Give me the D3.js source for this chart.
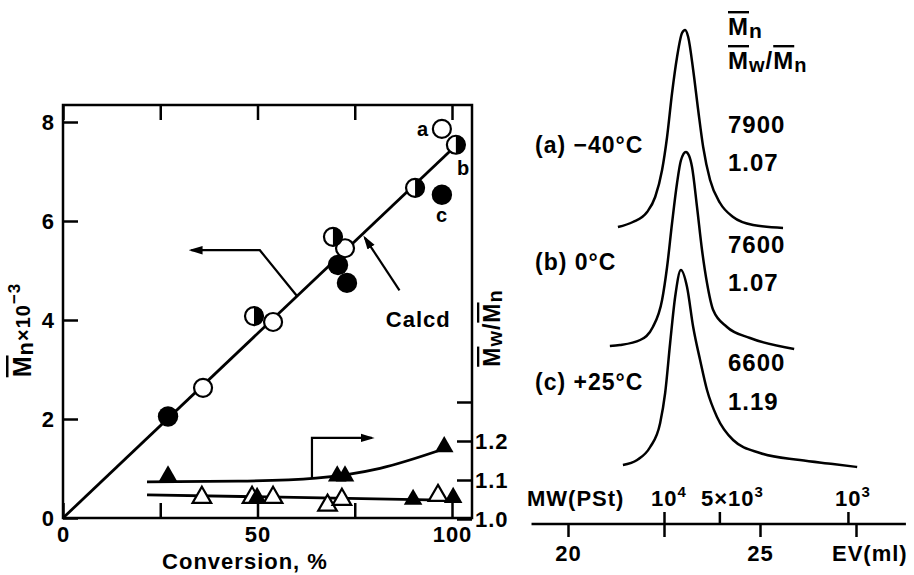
<!DOCTYPE html>
<html>
<head>
<meta charset="utf-8">
<script src="https://cdn.jsdelivr.net/npm/d3@7"></script>
<style>
body{margin:0;background:#fff;}
svg text{font-family:"Liberation Sans",Arial,sans-serif;font-weight:bold;fill:#000;letter-spacing:1px;}
</style>
</head>
<body>
<div id="chart"></div>
<script>
// ---- left panel data: conversion (%) vs Mn x 10^-3 and Mw/Mn
var mnOpen   = [[36, 2.63], [54, 3.96], [72.5, 5.45], [97.4, 7.86]];
var mnFilled = [[27, 2.05], [70.7, 5.11], [73, 4.75], [97.4, 6.53]];
var mnHalf   = [[49.1, 4.08], [69.4, 5.68], [90.5, 6.67], [101, 7.54]];
var mnCalcd  = [[0, 0], [100, 7.45]];

var ratioOpen   = [[35.7, 1.055], [48.6, 1.055], [54, 1.055], [68, 1.035], [71.7, 1.05], [96.4, 1.06]];
var ratioFilled = [[27, 1.11], [70.5, 1.11], [72.5, 1.11], [98, 1.185], [49.9, 1.055], [90, 1.05], [100.3, 1.055]];
var ratioFitFilled = [[21.6, 1.095], [45, 1.097], [65, 1.105], [81.5, 1.13], [98, 1.18]];
var ratioFitOpen   = [[21.6, 1.062], [101, 1.048]];

var convTicks  = [0, 25, 50, 75, 100];
var mnTicks    = [0, 2, 4, 6, 8];
var ratioTicks = [1.0, 1.1, 1.2, 1.3];

// ---- right panel data: GPC traces, elution volume (ml) vs detector response
var traceA = [[21.30,0.2],[21.69,1.2],[22.06,3.2],[22.27,6.2],[22.45,11.6],[22.58,18.2],[22.71,27.0],[22.84,34.2],[22.97,39.0],[23.05,39.6],[23.13,38.2],[23.26,31.6],[23.39,23.6],[23.52,16.2],[23.70,9.6],[23.96,5.0],[24.30,2.2],[24.82,0.6],[25.60,0.0]];
var traceB = [[21.09,0.4],[21.35,0.6],[21.88,1.6],[22.21,4.2],[22.45,9.6],[22.58,16.2],[22.71,25.0],[22.84,33.0],[22.94,37.5],[23.07,39.2],[23.15,38.5],[23.23,36.2],[23.36,28.2],[23.49,19.6],[23.62,13.0],[23.78,7.6],[24.14,4.2],[24.74,2.0],[25.89,-0.2]];
var traceC = [[21.43,0.6],[21.80,1.6],[22.14,4.2],[22.40,9.0],[22.53,15.0],[22.66,25.0],[22.79,34.2],[22.94,39.6],[23.10,36.2],[23.26,28.2],[23.44,21.6],[23.62,15.6],[23.88,10.2],[24.30,5.6],[25.00,3.0],[26.04,1.6],[26.90,0.8],[27.53,0.2]];
var traceOffsets = [59, 35, 11];
var traceLabels = ['(a) \u221240\u00b0C', '(b) 0\u00b0C', '(c) +25\u00b0C'];
var traceMn = ['7900', '7600', '6600'];
var traceRatio = ['1.07', '1.07', '1.19'];

var evTicks = [20, 22.5, 25, 27.5];
var evLabels = [20, 25];
var mwTicks = [1e4, 5e3, 1e3];

var svg = d3.select('#chart').append('svg')
    .attr('width', 914).attr('height', 575);

function richText(el, parts){
    var cur = 0;
    parts.forEach(function(p){
	var s = p.shift || 0;
	var ts = el.append('tspan').attr('dy', s - cur).text(p.t);
	cur = s;
	if (p.size) ts.attr('font-size', p.size);
	if (p.over) ts.style('text-decoration', 'overline');
    });
}

var defs = svg.append('defs');
defs.append('marker')
    .attr('id', 'head')
    .attr('viewBox', '0 0 10 10')
    .attr('refX', 8).attr('refY', 5)
    .attr('markerWidth', 14).attr('markerHeight', 14)
    .attr('markerUnits', 'userSpaceOnUse')
    .attr('orient', 'auto')
    .append('path').attr('d', 'M0,2 L10,5 L0,8 Z').attr('fill', '#000');

// ================= left panel =================
var x = d3.scaleLinear().domain([0, 100]).range([63, 452]);
var y = d3.scaleLinear().domain([0, 8]).range([518, 122]);
var yr = d3.scaleLinear().domain([1.0, 1.3]).range([519, 402]);
var frame = {left: 63, top: 105, right: 472, bottom: 518};

var left = svg.append('g');

left.append('rect')
    .attr('x', frame.left).attr('y', frame.top)
    .attr('width', frame.right - frame.left).attr('height', frame.bottom - frame.top)
    .attr('fill', 'none').attr('stroke', '#000').attr('stroke-width', 2.5);

function styleAxis(g){
    g.select('.domain').remove();
    g.attr('font-size', 22);
    g.selectAll('line').attr('stroke-width', 2.5);
}

left.append('g')
    .attr('transform', 'translate(0,' + frame.bottom + ')')
    .call(d3.axisBottom(x).tickValues(convTicks).tickSize(-15).tickPadding(8)
	  .tickFormat(function(d){ return d % 50 === 0 ? d : ''; }))
    .call(styleAxis);
left.append('g')
    .attr('transform', 'translate(0,' + frame.top + ')')
    .call(d3.axisTop(x).tickValues(convTicks).tickSize(-15).tickFormat(''))
    .call(styleAxis);
left.append('g')
    .attr('transform', 'translate(' + frame.left + ',0)')
    .call(d3.axisLeft(y).tickValues(mnTicks).tickSize(-15).tickPadding(8))
    .call(styleAxis);
left.append('g')
    .attr('transform', 'translate(' + frame.right + ',0)')
    .call(d3.axisRight(yr).tickValues(ratioTicks).tickSize(-15).tickPadding(3)
	  .tickFormat(function(d){ return d < 1.25 ? d.toFixed(1) : ''; }))
    .call(styleAxis);

// axis titles
left.append('text')
    .attr('x', 245).attr('y', 569)
    .attr('text-anchor', 'middle').attr('font-size', 22)
    .text('Conversion, %');

var ytl = left.append('text')
    .attr('transform', 'translate(31,330) rotate(-90)')
    .attr('text-anchor', 'middle').attr('font-size', 25);
richText(ytl, [{t: 'M', over: true}, {t: 'n', size: 22, shift: 2}, {t: '\u00d710', size: 20, shift: -1},
	       {t: '\u22123', size: 17, shift: -11}]);

var ytr = left.append('text')
    .attr('transform', 'translate(500,328) rotate(-90)')
    .attr('text-anchor', 'middle').attr('font-size', 23);
richText(ytr, [{t: 'M', over: true}, {t: 'w', size: 20, shift: 2}, {t: '/', shift: 0},
	       {t: 'M', over: true}, {t: 'n', size: 20, shift: 2}]);

// lines
var lineMn = d3.line().x(function(d){ return x(d[0]); }).y(function(d){ return y(d[1]); });
var lineR = d3.line().x(function(d){ return x(d[0]); }).y(function(d){ return yr(d[1]); })
    .curve(d3.curveMonotoneX);

left.append('path').attr('d', lineMn(mnCalcd))
    .attr('fill', 'none').attr('stroke', '#000').attr('stroke-width', 2.8);
left.append('path').attr('d', lineR(ratioFitFilled))
    .attr('fill', 'none').attr('stroke', '#000').attr('stroke-width', 2.8);
left.append('path').attr('d', lineR(ratioFitOpen))
    .attr('fill', 'none').attr('stroke', '#000').attr('stroke-width', 2.8);

// arrows pointing to the axes and to the calculated line
var arrowMn = [[60.2, 4.48], [50.6, 5.41], [33, 5.41]];
var arrowRatio = [[64, 1.105], [64, 1.208], [79.4, 1.208]];
var arrowCalcd = [[86.5, 4.6], [77.6, 5.66]];

left.append('path').attr('d', lineMn(arrowMn))
    .attr('fill', 'none').attr('stroke', '#000').attr('stroke-width', 2.2)
    .attr('marker-end', 'url(#head)');
left.append('path').attr('d', d3.line().x(function(d){ return x(d[0]); }).y(function(d){ return yr(d[1]); })(arrowRatio))
    .attr('fill', 'none').attr('stroke', '#000').attr('stroke-width', 2.2)
    .attr('marker-end', 'url(#head)');
left.append('path').attr('d', lineMn(arrowCalcd))
    .attr('fill', 'none').attr('stroke', '#000').attr('stroke-width', 2.2)
    .attr('marker-end', 'url(#head)');

left.append('text')
    .attr('x', x(83)).attr('y', y(3.86)).attr('font-size', 22)
    .text('Calcd');

// markers: circles for Mn
left.selectAll('circle.open').data(mnOpen).enter().append('circle')
    .attr('class', 'open')
    .attr('cx', function(d){ return x(d[0]); }).attr('cy', function(d){ return y(d[1]); })
    .attr('r', 9).attr('fill', '#fff').attr('stroke', '#000').attr('stroke-width', 2.2);
left.selectAll('circle.filled').data(mnFilled).enter().append('circle')
    .attr('class', 'filled')
    .attr('cx', function(d){ return x(d[0]); }).attr('cy', function(d){ return y(d[1]); })
    .attr('r', 10.2).attr('fill', '#000');
var halfArc = d3.arc()({innerRadius: 0, outerRadius: 9.5, startAngle: 0, endAngle: Math.PI});
var halves = left.selectAll('g.half').data(mnHalf).enter().append('g')
    .attr('class', 'half')
    .attr('transform', function(d){ return 'translate(' + x(d[0]) + ',' + y(d[1]) + ')'; });
halves.append('circle').attr('r', 9).attr('fill', '#fff').attr('stroke', '#000').attr('stroke-width', 2.2);
halves.append('path').attr('d', halfArc).attr('fill', '#000');

// markers: triangles for Mw/Mn
var tri = d3.symbol().type(d3.symbolTriangle).size(150);
left.selectAll('path.topen').data(ratioOpen).enter().append('path')
    .attr('class', 'topen')
    .attr('d', tri)
    .attr('transform', function(d){ return 'translate(' + x(d[0]) + ',' + yr(d[1]) + ')'; })
    .attr('fill', '#fff').attr('stroke', '#000').attr('stroke-width', 2.2);
left.selectAll('path.tfilled').data(ratioFilled).enter().append('path')
    .attr('class', 'tfilled')
    .attr('d', tri)
    .attr('transform', function(d){ return 'translate(' + x(d[0]) + ',' + yr(d[1]) + ')'; })
    .attr('fill', '#000');

// sample labels a, b, c
left.append('text').attr('x', x(mnOpen[3][0]) - 25).attr('y', y(mnOpen[3][1]) + 7)
    .attr('font-size', 20).text('a');
left.append('text').attr('x', x(mnHalf[3][0]) + 1).attr('y', y(mnHalf[3][1]) + 30)
    .attr('font-size', 20).text('b');
left.append('text').attr('x', x(mnFilled[3][0]) - 6).attr('y', y(mnFilled[3][1]) + 27)
    .attr('font-size', 20).text('c');

// ================= right panel =================
var ev = d3.scaleLinear().domain([20, 25]).range([568, 760]);
var sig = d3.scaleLinear().domain([0, 100]).range([523, 23]);
var mw = d3.scaleLog().domain([1e4, 1e3]).range([ev(22.5), ev(27.29)]);
var axisY = 524;

var right = svg.append('g');

var traceLine = d3.line().curve(d3.curveMonotoneX);
[traceA, traceB, traceC].forEach(function(tr, i){
    right.append('path')
	.attr('d', traceLine(tr.map(function(d){ return [ev(d[0]), sig(d[1] + traceOffsets[i])]; })))
	.attr('fill', 'none').attr('stroke', '#000').attr('stroke-width', 2.5);
});

// text column
var labY = [153, 270, 390];
var mnY = [133, 253, 371];
var rY = [171, 291, 410];
traceLabels.forEach(function(t, i){
    right.append('text').attr('x', 535).attr('y', labY[i]).attr('font-size', 23).text(t);
    right.append('text').attr('x', 728).attr('y', mnY[i]).attr('font-size', 24).text(traceMn[i]);
    right.append('text').attr('x', 728).attr('y', rY[i]).attr('font-size', 24).text(traceRatio[i]);
});

var h1 = right.append('text').attr('x', 728).attr('y', 35).attr('font-size', 24);
richText(h1, [{t: 'M', over: true}, {t: 'n', size: 21, shift: 3}]);
var h2 = right.append('text').attr('x', 728).attr('y', 69).attr('font-size', 24);
richText(h2, [{t: 'M', over: true}, {t: 'w', size: 20, shift: 3}, {t: '/', shift: 0},
	      {t: 'M', over: true}, {t: 'n', size: 20, shift: 3}]);

// bottom axes: elution volume below, polystyrene MW above
right.append('line')
    .attr('x1', ev(19.05)).attr('x2', ev(28.8))
    .attr('y1', axisY).attr('y2', axisY)
    .attr('stroke', '#000').attr('stroke-width', 2.5);

right.append('g')
    .attr('transform', 'translate(0,' + axisY + ')')
    .call(d3.axisBottom(ev).tickValues(evTicks).tickSize(13).tickPadding(8)
	  .tickFormat(function(d){ return evLabels.indexOf(d) >= 0 ? d : ''; }))
    .call(styleAxis);
right.append('g')
    .attr('transform', 'translate(0,' + axisY + ')')
    .call(d3.axisTop(mw).tickValues(mwTicks).tickSize(12).tickFormat(''))
    .call(styleAxis);

right.append('text').attr('x', 527).attr('y', 506).attr('font-size', 22).text('MW(PSt)');
right.append('text').attr('x', 832).attr('y', 561).attr('font-size', 22).text('EV(ml)');

var mwLab = [
    {v: 1e4, dx: 5, parts: [{t: '10'}, {t: '4', size: 15, shift: -9}]},
    {v: 5e3, dx: 13, parts: [{t: '5\u00d710'}, {t: '3', size: 15, shift: -9}]},
    {v: 1e3, dx: 5, parts: [{t: '10'}, {t: '3', size: 15, shift: -9}]}
];
mwLab.forEach(function(m){
    var t = right.append('text')
	.attr('x', mw(m.v) + m.dx).attr('y', 506)
	.attr('text-anchor', 'middle').attr('font-size', 22);
    richText(t, m.parts);
});
</script>
</body>
</html>
